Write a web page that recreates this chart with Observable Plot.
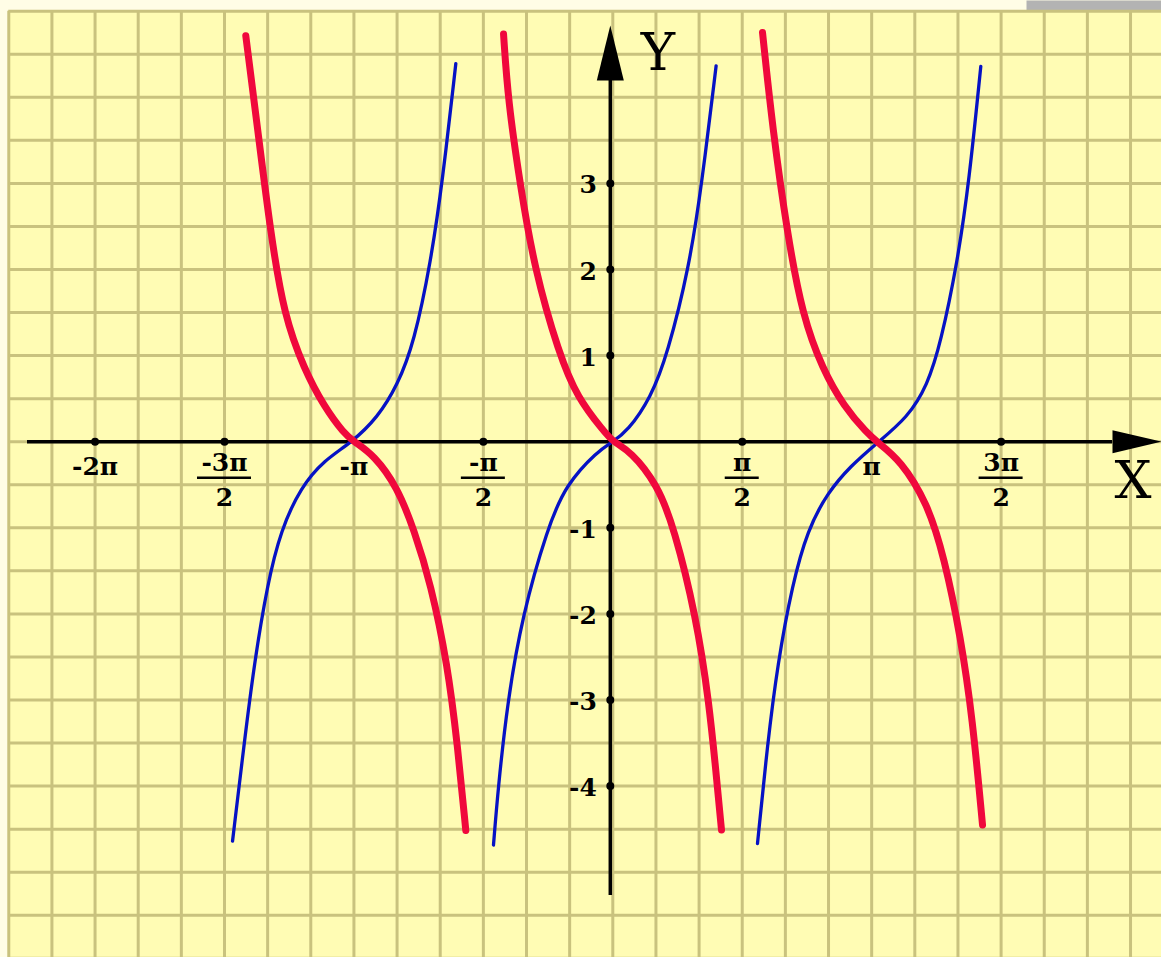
<!DOCTYPE html>
<html>
<head>
<meta charset="utf-8">
<script src="https://cdn.jsdelivr.net/npm/d3@7"></script>
<script src="https://cdn.jsdelivr.net/npm/@observablehq/plot@0.6"></script>
<style>
  html, body { margin: 0; padding: 0; background: #fffde6; }
  #chart svg { display: block; }
</style>
</head>
<body>
<div id="chart"></div>
<script>
const PI = Math.PI;

// ---- data (x in radians, y in units) ----
const blueLeft = [[-4.615,-4.64],[-4.475,-3.517],[-4.353,-2.584],[-4.191,-1.65],[-4.029,-1.027],[-3.786,-0.529],[-3.504,-0.215],[-3.17,-0.01],[-2.855,0.28],[-2.613,0.655],[-2.411,1.152],[-2.209,2.087],[-2.067,3.021],[-1.905,4.392]];
const redLeft = [[-4.454,4.715],[-4.312,3.645],[-4.15,2.401],[-3.989,1.464],[-3.746,0.843],[-3.503,0.406],[-3.261,0.094],[-3.14,0],[-2.897,-0.156],[-2.613,-0.529],[-2.411,-1.027],[-2.209,-1.65],[-2.006,-2.584],[-1.885,-3.517],[-1.784,-4.515]];
const blueCenter = [[-1.448,-4.684],[-1.392,-4.026],[-1.278,-3.017],[-1.096,-2.009],[-0.792,-1.002],[-0.57,-0.498],[-0.186,-0.11],[0,0],[0.178,0.122],[0.461,0.509],[0.664,1.017],[0.926,2.021],[1.08,2.991],[1.254,4.366]];
const redCenter = [[-1.326,4.735],[-1.271,3.959],[-1.125,2.991],[-0.955,2.021],[-0.652,1.017],[-0.428,0.509],[-0.109,0.122],[0,0],[0.218,-0.11],[0.542,-0.498],[0.744,-1.002],[1.007,-2.009],[1.169,-3.017],[1.271,-4.026],[1.319,-4.509]];
const blueRight = [[1.756,-4.669],[1.877,-3.517],[1.999,-2.584],[2.181,-1.65],[2.363,-1.027],[2.606,-0.592],[2.888,-0.28],[3.204,-0.017],[3.577,0.28],[3.819,0.655],[3.981,1.152],[4.183,2.087],[4.324,3.021],[4.466,4.36]];
const redRight = [[1.817,4.752],[1.938,3.645],[2.12,2.401],[2.302,1.464],[2.545,0.843],[2.807,0.406],[3.091,0.094],[3.204,0],[3.495,-0.217],[3.819,-0.715],[4.021,-1.338],[4.223,-2.273],[4.365,-3.207],[4.487,-4.452]];

// tick values and labels
const xTickValues = [-2*PI, -3*PI/2, -PI, -PI/2, PI/2, PI, 3*PI/2];
const xTickNumerators = ["-2π", "-3π", "-π", "-π", "π", "π", "3π"];
const xTickDenominators = ["", "2", "", "2", "2", "", "2"];
const xDotValues = [-2*PI, -3*PI/2, -PI/2, PI/2, 3*PI/2];
const yTickValues = [3, 2, 1, -1, -2, -3, -4];
const yTickLabels = ["3", "2", "1", "-1", "-2", "-3", "-4"];
const gridXSteps = d3.range(-14, 13);   // multiples of π/6
const gridYSteps = d3.range(-12, 11);   // multiples of 0.5

// ---- layout ----
const W = 1161, H = 957;
const X0PX = 612.3, PX_PER_RAD = 82.4, Y0PX = 441.2, PX_PER_UNIT = 86.1;
const xMin = -X0PX / PX_PER_RAD, xMax = (W - X0PX) / PX_PER_RAD;
const yMin = -(H - Y0PX) / PX_PER_UNIT, yMax = Y0PX / PX_PER_UNIT;

const YELLOW = "#fffcb4", GRID = "#c9c27e", BLUE = "#0612c4", RED = "#f0083c";
const FONT = "DejaVu Serif";

const toRows = (pts, branch) => pts.map(([x, y]) => ({x, y, branch}));
const blueData = [...toRows(blueLeft, "L"), ...toRows(blueCenter, "C"), ...toRows(blueRight, "R")];
const redData = [...toRows(redLeft, "L"), ...toRows(redCenter, "C"), ...toRows(redRight, "R")];

const ticks = xTickValues.map((x, i) => ({x, num: xTickNumerators[i], den: xTickDenominators[i]}));
const singles = ticks.filter(d => !d.den);
const fracs = ticks.filter(d => d.den);
const barHalf = d => (12 + 5 * d.num.length) / PX_PER_RAD;

const gridTop = 5, gridLeft = -14 * PI / 6;

const arrowUp = {draw(ctx) { ctx.moveTo(0, 0); ctx.lineTo(13.5, 55); ctx.lineTo(-13.5, 55); ctx.closePath(); }};
const arrowRight = {draw(ctx) { ctx.moveTo(0, 0); ctx.lineTo(-49, -11.5); ctx.lineTo(-49, 11.5); ctx.closePath(); }};
const yTip = (Y0PX - 25) / PX_PER_UNIT;
const yShaftTop = (Y0PX - 80) / PX_PER_UNIT;
const yShaftBottom = (Y0PX - 895) / PX_PER_UNIT;
const xShaftLeft = (27 - X0PX) / PX_PER_RAD;
const xShaftRight = (1112 - X0PX) / PX_PER_RAD;
const AX_DX = -2.5;

const txt = {fontFamily: FONT, fontSize: 25, fontWeight: "bold", fill: "black"};

const chart = Plot.plot({
  width: W, height: H,
  margin: 0,
  x: {domain: [xMin, xMax], range: [0, W], axis: null},
  y: {domain: [yMin, yMax], range: [H, 0], axis: null},
  style: {background: "#fffde6", overflow: "hidden"},
  marks: [
    Plot.frame({fill: YELLOW, stroke: "none", insetLeft: 8, insetTop: 10}),
    Plot.frame({fill: "#b3b3b3", stroke: "none", insetLeft: 1026, insetBottom: H - 11}),
    Plot.ruleX(gridXSteps, {x: k => k * PI / 6, y1: gridTop, y2: yMin, stroke: GRID, strokeWidth: 3}),
    Plot.ruleY(gridYSteps, {y: k => k * 0.5, x1: gridLeft, x2: xMax, stroke: GRID, strokeWidth: 3}),
    // axes
    Plot.ruleY([0], {x1: xShaftLeft, x2: xShaftRight, stroke: "black", strokeWidth: 3.5}),
    Plot.ruleX([0], {y1: yShaftBottom, y2: yShaftTop, stroke: "black", strokeWidth: 3.5, dx: AX_DX}),
    Plot.dot([0], {x: 0, y: yTip, symbol: arrowUp, fill: "black", stroke: "none", dx: AX_DX}),
    Plot.dot([0], {x: xMax, y: 0, symbol: arrowRight, fill: "black", stroke: "none"}),
    Plot.dot(xDotValues, {x: d => d, y: 0, r: 4, fill: "black", stroke: "none"}),
    Plot.dot(yTickValues, {x: 0, y: d => d, r: 4, fill: "black", stroke: "none", dx: AX_DX}),
    // x tick labels
    Plot.text(singles, {x: "x", y: 0, text: "num", dy: 25, ...txt}),
    Plot.text(fracs, {x: "x", y: 0, text: "num", dy: 21, ...txt}),
    Plot.ruleY(fracs, {y: 0, x1: d => d.x - barHalf(d), x2: d => d.x + barHalf(d), dy: 36, stroke: "black", strokeWidth: 2.5}),
    Plot.text(fracs, {x: "x", y: 0, text: "den", dy: 56, ...txt}),
    // y tick labels
    Plot.text(yTickValues, {x: 0, y: d => d, text: (d, i) => yTickLabels[i], textAnchor: "end", dx: -16, dy: 2, ...txt}),
    // axis names
    Plot.text(["X"], {x: xMax, y: 0, text: d => d, textAnchor: "end", dx: -10, dy: 40, fontFamily: FONT, fontSize: 52, fill: "black"}),
    Plot.text(["Y"], {x: 0, y: yTip, text: d => d, dx: 45, dy: 28, fontFamily: FONT, fontSize: 52, fill: "black"}),
    // curves
    Plot.line(blueData, {x: "x", y: "y", z: "branch", stroke: BLUE, strokeWidth: 3.3, curve: "basis"}),
    Plot.line(redData, {x: "x", y: "y", z: "branch", stroke: RED, strokeWidth: 7, curve: "basis"})
  ]
});
document.getElementById("chart").append(chart);
</script>
</body>
</html>
